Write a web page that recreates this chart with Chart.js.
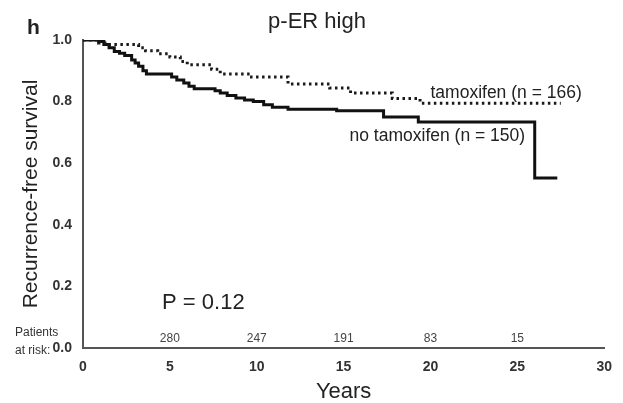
<!DOCTYPE html>
<html>
<head>
<meta charset="utf-8">
<script src="https://cdn.jsdelivr.net/npm/chart.js@4.4.1/dist/chart.umd.min.js"></script>
<style>
  html, body { margin: 0; padding: 0; background: #fff; }
  #wrap { width: 623px; height: 403px; position: relative; }
</style>
</head>
<body>
<div id="wrap"><canvas id="c" width="623" height="403"></canvas></div>
<script>
// ---- data ----
const noTamYears = [0, 0.9, 1.2, 1.5, 1.8, 2.1, 2.4, 2.8, 3.0, 3.2, 3.45, 3.65, 5.1, 5.4, 5.8, 6.1, 6.4, 7.6, 7.9, 8.3, 8.8, 9.3, 9.8, 10.4, 10.9, 11.8, 14.6, 17.3, 19.3, 26.0, 27.3];
const noTamSurv  = [1.0, 0.995, 0.985, 0.975, 0.963, 0.957, 0.95, 0.935, 0.925, 0.915, 0.9, 0.89, 0.88, 0.87, 0.86, 0.85, 0.842, 0.835, 0.828, 0.82, 0.812, 0.805, 0.80, 0.79, 0.782, 0.775, 0.77, 0.75, 0.734, 0.552, 0.552];
const tamYears = [0, 0.9, 1.4, 3.2, 3.6, 4.3, 5.0, 5.6, 6.0, 7.4, 7.9, 9.6, 11.8, 14.2, 15.4, 17.8, 19.4, 27.5];
const tamSurv  = [1.0, 0.99, 0.985, 0.975, 0.965, 0.955, 0.945, 0.93, 0.92, 0.905, 0.89, 0.88, 0.857, 0.844, 0.828, 0.81, 0.795, 0.795];
const riskYears  = [5, 10, 15, 20, 25];
const riskCounts = [280, 247, 191, 83, 15];
const xTicks = [0, 5, 10, 15, 20, 25, 30];
const yTicks = [0, 0.2, 0.4, 0.6, 0.8, 1.0];
const panelLetter = 'h';
const chartTitle = 'p-ER high';
const pText = 'P = 0.12';
const tamLabel = 'tamoxifen (n = 166)';
const noTamLabel = 'no tamoxifen (n = 150)';

const toXY = (xs, ys) => xs.map((x, i) => ({ x: x, y: ys[i] }));

const textPlugin = {
  id: 'texts',
  afterDraw(chart) {
    const ctx = chart.ctx;
    const xs = chart.scales.x, ys = chart.scales.y;
    const ca = chart.chartArea;
    ctx.save();
    ctx.fillStyle = '#222';
    ctx.textBaseline = 'middle';
    // panel letter
    ctx.font = 'bold 21px "Liberation Sans", Arial, sans-serif';
    ctx.textAlign = 'left';
    ctx.fillText(panelLetter, 27, 28);
    // title
    ctx.font = '22px "Liberation Sans", Arial, sans-serif';
    ctx.textAlign = 'center';
    ctx.textBaseline = 'alphabetic';
    ctx.fillText(chartTitle, 317, 28);
    ctx.textBaseline = 'middle';
    // series labels
    ctx.font = '17.5px "Liberation Sans", Arial, sans-serif';
    ctx.textAlign = 'left';
    ctx.fillText(tamLabel, xs.getPixelForValue(20.0), ys.getPixelForValue(0.828));
    ctx.fillText(noTamLabel, xs.getPixelForValue(15.34), ys.getPixelForValue(0.688));
    // P value
    ctx.font = '22px "Liberation Sans", Arial, sans-serif';
    ctx.fillText(pText, xs.getPixelForValue(4.55), ys.getPixelForValue(0.146));
    // patients at risk
    ctx.font = '12px "Liberation Sans", Arial, sans-serif';
    ctx.fillStyle = '#333';
    ctx.fillText('Patients', 15, 333);
    ctx.fillText('at risk:', 15, 351);
    ctx.textAlign = 'center';
    ctx.fillStyle = '#444';
    riskYears.forEach((yr, i) => {
      ctx.fillText(String(riskCounts[i]), xs.getPixelForValue(yr), ca.bottom - 9);
    });
    ctx.restore();
  }
};

new Chart(document.getElementById('c'), {
  type: 'line',
  data: {
    datasets: [
      {
        label: tamLabel,
        data: toXY(tamYears, tamSurv),
        stepped: 'before',
        borderColor: '#1a1a1a',
        borderWidth: 3,
        borderDash: [2.5, 3.5],
        borderCapStyle: 'butt',
        pointRadius: 0,
        fill: false
      },
      {
        label: noTamLabel,
        data: toXY(noTamYears, noTamSurv),
        stepped: 'before',
        borderColor: '#111',
        borderWidth: 3,
        pointRadius: 0,
        fill: false
      }
    ]
  },
  options: {
    responsive: false,
    animation: false,
    layout: { padding: { top: 40, right: 12, left: 0, bottom: 0 } },
    plugins: { legend: { display: false }, tooltip: { enabled: false }, title: { display: false } },
    scales: {
      x: {
        type: 'linear',
        min: 0, max: 30,
        afterBuildTicks: (s) => { s.ticks = xTicks.map(v => ({ value: v })); },
        afterFit: (s) => { s.height = 55; },
        grid: { display: false, drawTicks: false },
        border: { display: true, color: '#555', width: 2 },
        ticks: { padding: 11, color: '#333', font: { family: '"Liberation Sans", Arial, sans-serif', size: 14, weight: 'bold' }, maxRotation: 0 },
        title: { display: true, text: 'Years', color: '#222', padding: 0, font: { family: '"Liberation Sans", Arial, sans-serif', size: 22, lineHeight: 1 } }
      },
      y: {
        min: 0, max: 1,
        afterBuildTicks: (s) => { s.ticks = yTicks.map(v => ({ value: v })); },
        afterFit: (s) => { s.width = 83; },
        grid: { display: false, drawTicks: false },
        border: { display: true, color: '#555', width: 2 },
        ticks: { padding: 11, color: '#333', callback: (v) => Number(v).toFixed(1), font: { family: '"Liberation Sans", Arial, sans-serif', size: 14, weight: 'bold' } },
        title: { display: true, text: 'Recurrence-free survival', color: '#222', padding: { top: 21, bottom: 0 }, font: { family: '"Liberation Sans", Arial, sans-serif', size: 21, lineHeight: 1 } }
      }
    }
  },
  plugins: [textPlugin]
});
</script>
</body>
</html>
